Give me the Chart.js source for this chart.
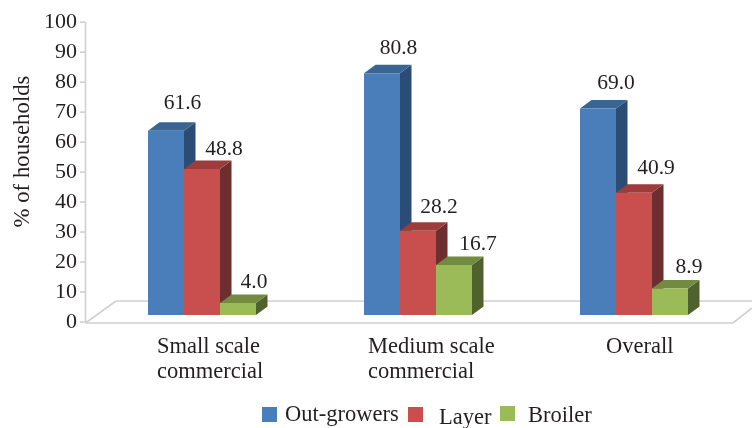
<!DOCTYPE html>
<html>
<head>
<meta charset="utf-8">
<title>% of households by scale</title>
<script src="https://cdn.jsdelivr.net/npm/chart.js@4/dist/chart.umd.min.js"></script>
<style>
html, body { margin: 0; padding: 0; background: #fff; }
canvas { display: block; }
</style>
</head>
<body>
<canvas id="barChart" width="752" height="428"></canvas>
<script>
var categories = ['Small scale commercial', 'Medium scale commercial', 'Overall'];
var outGrowers = [61.6, 80.8, 69.0];
var layer = [48.8, 28.2, 40.9];
var broiler = [4.0, 16.7, 8.9];
var yTicks = [0, 10, 20, 30, 40, 50, 60, 70, 80, 90, 100];

var textColor = '#231f20';
var lineColor = '#cfd0d2';
var serif = '"Liberation Serif", serif';
var depth = { x: 11.5, y: -8.5 };

// category text, line by line, with left edge relative to the category centre
var catLines = [['Small scale', 'commercial'], ['Medium scale', 'commercial'], ['Overall']];
var catShift = [-45, -50, -28];

// value label nudges from the front-top centre of each bar
var labelNudge = [
    [[16.5, -22], [16.5, -19], [18, -19.5]],
    [[22, -14.5], [21, -18], [22, -19]],
    [[16, -14.7], [24, -14.8], [19, -15]]
];

var legendItems = [
    { text: 'Out-growers', color: '#4a7ebb', box: [262, 407], at: [285, 421] },
    { text: 'Layer', color: '#c84f4d', box: [408, 407], at: [439, 424] },
    { text: 'Broiler', color: '#9bbb59', box: [500, 406], at: [528, 422] }
];

function quad(ctx, pts, color) {
    ctx.fillStyle = color;
    ctx.beginPath();
    ctx.moveTo(pts[0][0], pts[0][1]);
    for (var i = 1; i < pts.length; i++) ctx.lineTo(pts[i][0], pts[i][1]);
    ctx.closePath();
    ctx.fill();
}

function line(ctx, x1, y1, x2, y2) {
    ctx.beginPath();
    ctx.moveTo(x1, y1);
    ctx.lineTo(x2, y2);
    ctx.stroke();
}

var bars3d = {
    id: 'bars3d',
    beforeDatasetsDraw: function(chart) {
        var ctx = chart.ctx;
        var y = chart.scales.y;
        var zero = y.getPixelForValue(0);

        // floor and value axis go under everything
        ctx.save();
        ctx.strokeStyle = lineColor;
        ctx.lineWidth = 1.6;
        line(ctx, 85.5, y.getPixelForValue(100), 85.5, zero);
        yTicks.forEach(function(t) {
            line(ctx, 80, y.getPixelForValue(t), 85.5, y.getPixelForValue(t));
        });
        line(ctx, 85.5, zero + 1, 733, zero + 1);
        line(ctx, 85.5, zero + 1, 116, 301);
        line(ctx, 116, 301, 752, 301);
        line(ctx, 733, zero + 1, 752, 308);
        ctx.restore();

        // left to right, so each bar covers the side face of the one before it
        chart.data.datasets.forEach(function(ds, d) {
            var meta = chart.getDatasetMeta(d);
            meta.data.forEach(function(bar) {
                var l = bar.x - bar.width / 2, r = bar.x + bar.width / 2;
                quad(ctx, [[r, bar.y], [r + depth.x, bar.y + depth.y], [r + depth.x, bar.base + depth.y], [r, bar.base]], ds.sideColor);
                quad(ctx, [[l, bar.y], [l + depth.x, bar.y + depth.y], [r + depth.x, bar.y + depth.y], [r, bar.y]], ds.topColor);
            });
            meta.controller.draw();
        });
    },
    // already drawn above in the right order
    beforeDatasetDraw: function() {
        return false;
    },
    afterDraw: function(chart) {
        var ctx = chart.ctx;
        ctx.save();
        ctx.fillStyle = textColor;
        ctx.font = '21.5px ' + serif;
        ctx.textBaseline = 'alphabetic';

        ctx.textAlign = 'center';
        chart.data.datasets.forEach(function(ds, d) {
            chart.getDatasetMeta(d).data.forEach(function(bar, i) {
                var n = labelNudge[d][i];
                ctx.fillText(ds.data[i].toFixed(1), bar.x + n[0], bar.y + n[1]);
            });
        });

        ctx.font = '22.5px ' + serif;
        ctx.textAlign = 'left';
        catLines.forEach(function(lines, i) {
            var x = chart.scales.x.getPixelForTick(i) + catShift[i];
            lines.forEach(function(txt, k) {
                ctx.fillText(txt, x, 353 + k * 25);
            });
        });

        legendItems.forEach(function(it) {
            ctx.fillStyle = it.color;
            ctx.fillRect(it.box[0], it.box[1], 15, 15);
            ctx.fillStyle = textColor;
            ctx.fillText(it.text, it.at[0], it.at[1]);
        });

        // axis title sits above the middle of the axis
        ctx.font = '22.8px ' + serif;
        ctx.fillStyle = textColor;
        ctx.textAlign = 'center';
        ctx.translate(29, 151.5);
        ctx.rotate(-Math.PI / 2);
        ctx.fillText('% of households', 0, 0);
        ctx.restore();
    }
};

var barChart = new Chart(document.getElementById('barChart'), {
    type: 'bar',
    data: {
        labels: categories,
        datasets: [
            { label: 'Out-growers', data: outGrowers, backgroundColor: '#4a7ebb', topColor: '#3a6593', sideColor: '#2b4d75', yAxisID: 'yBars' },
            { label: 'Layer', data: layer, backgroundColor: '#c84f4d', topColor: '#9c3d3b', sideColor: '#6c2e2e', yAxisID: 'yBars' },
            { label: 'Broiler', data: broiler, backgroundColor: '#9bbb59', topColor: '#728b41', sideColor: '#4f622d', yAxisID: 'yBars' }
        ]
    },
    plugins: [bars3d],
    options: {
        responsive: false,
        animation: false,
        devicePixelRatio: 1,
        layout: { padding: { top: 9, right: 10, bottom: 106, left: 0 } },
        categoryPercentage: 0.5,
        barPercentage: 1,
        scales: {
            x: { display: false },
            y: {
                min: 0,
                max: 100,
                afterFit: function(scale) { scale.width = 94; },
                afterBuildTicks: function(scale) {
                    scale.ticks = yTicks.map(function(v) { return { value: v }; });
                },
                grid: { display: false },
                border: { display: false },
                ticks: { color: textColor, padding: 9, autoSkip: false, font: { family: serif, size: 22 } }
            },
            // bars stand on the floor, a little above the axis zero
            yBars: { display: false, min: -2.33, max: 97.87 }
        },
        plugins: {
            legend: { display: false },
            tooltip: { enabled: false }
        }
    }
});
</script>
</body>
</html>
